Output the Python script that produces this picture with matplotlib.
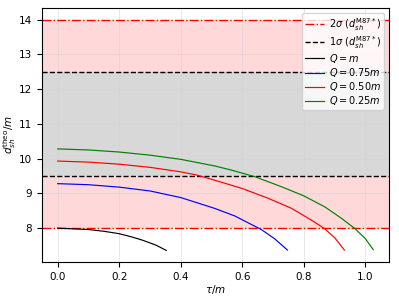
import matplotlib
matplotlib.use("Agg")
import matplotlib.pyplot as plt

# values
tau_q100 = [0.0, 0.1, 0.15, 0.2, 0.24, 0.277, 0.32, 0.353]
d_q100 = [8.00, 7.96, 7.91, 7.84, 7.75, 7.65, 7.51, 7.36]

tau_q075 = [0.0, 0.1, 0.2, 0.3, 0.4, 0.51, 0.576, 0.62, 0.662, 0.706, 0.747]
d_q075 = [9.28, 9.25, 9.18, 9.07, 8.88, 8.57, 8.35, 8.15, 7.96, 7.69, 7.37]

tau_q050 = [0.0, 0.1, 0.2, 0.3, 0.4, 0.451, 0.51, 0.6, 0.684, 0.76, 0.825, 0.867, 0.901, 0.932]
d_q050 = [9.93, 9.90, 9.84, 9.75, 9.62, 9.53, 9.38, 9.14, 8.86, 8.57, 8.23, 7.99, 7.72, 7.37]

tau_q025 = [0.0, 0.1, 0.2, 0.3, 0.4, 0.51, 0.565, 0.641, 0.728, 0.8, 0.869, 0.923, 0.966, 1.0, 1.026]
d_q025 = [10.28, 10.25, 10.19, 10.10, 9.98, 9.79, 9.67, 9.48, 9.19, 8.93, 8.61, 8.28, 7.99, 7.70, 7.38]

sigma2 = (8.0, 14.0)
sigma1 = (9.5, 12.5)

fig = plt.figure(figsize=(3.99, 2.99), dpi=100)
ax = fig.add_axes([0.105, 0.124, 0.87, 0.849])

# observational bands
ax.axhspan(sigma2[0], sigma1[0], color='red', alpha=0.15, lw=0)
ax.axhspan(sigma1[1], sigma2[1], color='red', alpha=0.15, lw=0)
ax.axhspan(sigma1[0], sigma1[1], color='gray', alpha=0.3, lw=0)
ax.axhline(sigma2[0], color='red', ls='-.', lw=1, label=r'$2\sigma\ (d_{sh}^{\rm M87*})$')
ax.axhline(sigma2[1], color='red', ls='-.', lw=1)
ax.axhline(sigma1[0], color='black', ls='--', lw=1, label=r'$1\sigma\ (d_{sh}^{\rm M87*})$')
ax.axhline(sigma1[1], color='black', ls='--', lw=1)

ax.plot(tau_q100, d_q100, color='black', lw=0.85, label=r'$Q=m$')
ax.plot(tau_q075, d_q075, color='blue', lw=0.85, label=r'$Q=0.75m$')
ax.plot(tau_q050, d_q050, color='red', lw=0.85, label=r'$Q=0.50m$')
ax.plot(tau_q025, d_q025, color='green', lw=0.85, label=r'$Q=0.25m$')

ax.grid(color='lightgray', alpha=0.6, lw=0.6)
ax.tick_params(labelsize=7.5)
ax.set_xlabel(r'$\tau/m$', fontsize=7.5, labelpad=1)
ax.set_ylabel(r'$d_{sh}^{\rm theo}/m$', fontsize=7.5, labelpad=1)
ax.legend(loc='upper right', fontsize=7, framealpha=0.8, handlelength=2.0,
          borderpad=0.3, labelspacing=0.12, handletextpad=0.5)

fig.savefig('out.png', dpi=100)
